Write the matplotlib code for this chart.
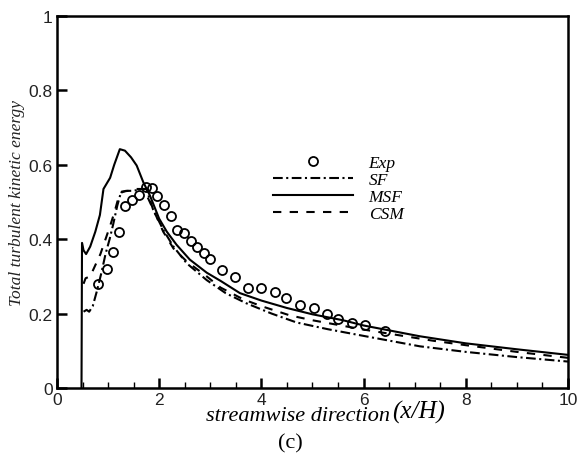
import matplotlib
matplotlib.use("Agg")
import matplotlib.pyplot as plt
from matplotlib.ticker import MultipleLocator

plt.rcParams['lines.scale_dashes'] = False

# experiment (circles)
exp_x = [0.81, 0.97, 1.10, 1.21, 1.34, 1.47, 1.60, 1.74, 1.85, 1.96, 2.10, 2.23,
         2.34, 2.49, 2.62, 2.74, 2.87, 3.00, 3.22, 3.48, 3.74, 4.00, 4.26, 4.48,
         4.76, 5.02, 5.28, 5.50, 5.77, 6.03, 6.42]
exp_y = [0.28, 0.32, 0.365, 0.42, 0.49, 0.505, 0.52, 0.54, 0.537, 0.515, 0.492, 0.463,
         0.426, 0.416, 0.396, 0.378, 0.362, 0.347, 0.317, 0.297, 0.27, 0.268, 0.257, 0.243,
         0.223, 0.214, 0.20, 0.185, 0.176, 0.168, 0.154]

# SF model
sf_x = [0.52, 0.58, 0.63, 0.70, 0.78, 0.87, 0.95, 1.03, 1.10, 1.18, 1.25, 1.35, 1.50,
        1.65, 1.75, 1.88, 2.08, 2.28, 2.54, 2.93, 3.30, 3.70, 4.20, 4.69, 5.30, 6.00,
        7.10, 8.00, 9.00, 10.0]
sf_y = [0.205, 0.21, 0.205, 0.22, 0.26, 0.31, 0.36, 0.40, 0.44, 0.49, 0.525, 0.53, 0.53,
        0.535, 0.535, 0.48, 0.425, 0.38, 0.335, 0.29, 0.255, 0.228, 0.20, 0.176, 0.158, 0.14,
        0.112, 0.097, 0.083, 0.071]

# MSF model
msf_x = [0.48, 0.49, 0.52, 0.57, 0.65, 0.75, 0.84, 0.91, 1.04, 1.12, 1.23, 1.33, 1.45,
         1.56, 1.69, 1.82, 2.00, 2.15, 2.34, 2.60, 2.93, 3.20, 3.58, 4.00, 4.50, 5.00,
         5.60, 6.00, 7.10, 8.00, 9.00, 10.0]
msf_y = [0.0, 0.39, 0.37, 0.36, 0.38, 0.42, 0.465, 0.535, 0.565, 0.60, 0.642, 0.638, 0.62,
         0.598, 0.553, 0.517, 0.455, 0.42, 0.385, 0.345, 0.31, 0.288, 0.255, 0.235, 0.215, 0.198,
         0.182, 0.168, 0.139, 0.12, 0.104, 0.089]

# CSM model
csm_x = [0.52, 0.56, 0.65, 0.75, 0.85, 0.95, 1.05, 1.13, 1.20, 1.27, 1.40, 1.55, 1.70,
         1.85, 2.08, 2.28, 2.54, 2.93, 3.20, 3.65, 4.00, 4.56, 5.00, 6.00, 7.36, 8.00,
         9.00, 10.0]
csm_y = [0.28, 0.295, 0.30, 0.33, 0.36, 0.40, 0.44, 0.475, 0.51, 0.528, 0.53, 0.535, 0.535,
         0.49, 0.42, 0.375, 0.34, 0.30, 0.27, 0.238, 0.22, 0.195, 0.182, 0.157, 0.127, 0.115,
         0.097, 0.081]

fig = plt.figure(figsize=(5.79, 4.56), dpi=100)
ax = fig.add_axes([0.0984, 0.147, 0.8826, 0.8157])

ax.plot(exp_x, exp_y, ls='none', marker='o', ms=6.5, mfc='none', mec='black', mew=1.3, label='Exp')
ax.plot(sf_x, sf_y, color='black', lw=1.5, dashes=(7, 2.5, 1.5, 2.5), label='SF')
ax.plot(msf_x, msf_y, color='black', lw=1.5, label='MSF')
ax.plot(csm_x, csm_y, color='black', lw=1.5, dashes=(6, 6), label='CSM')

ax.set_xlim(0, 10)
ax.set_ylim(0, 1)
ax.set_xticks([0, 2, 4, 6, 8, 10])
ax.set_xticklabels(['0', '2', '4', '6', '8', '10'])
ax.xaxis.set_minor_locator(MultipleLocator(0.5))
ax.set_yticks([0, 0.2, 0.4, 0.6, 0.8, 1.0])
ax.set_yticklabels(['0', '0.2', '0.4', '0.6', '0.8', '1'])
ax.tick_params(which='major', direction='in', length=7, width=1.8, labelsize=12.5, pad=3,
               labelcolor='#222222')
ax.tick_params(which='minor', direction='in', length=4, width=1.0)
for lab in ax.get_xticklabels() + ax.get_yticklabels():
    lab.set_family('Liberation Sans')
for s in ax.spines.values():
    s.set_linewidth(1.8)

ax.set_ylabel('Total turbulent kinetic energy', family='Liberation Serif', style='italic',
              fontsize=12.5, color='#222222', labelpad=3)

fig.text(390 / 579, 1 - 421 / 456, 'streamwise direction', family='Liberation Serif',
         style='italic', fontsize=16, ha='right', va='baseline')
fig.text(392 / 579, 1 - 419 / 456, '(x/H)', family='Liberation Serif',
         style='italic', fontsize=18, ha='left', va='baseline')
fig.text(290 / 579, 1 - 444 / 456, '(c)', family='Liberation Serif', fontsize=16,
         ha='center', va='center')

leg = ax.legend(loc='upper left', bbox_to_anchor=(0.423, 0.627), frameon=False,
                handlelength=4.6, handletextpad=0.9, labelspacing=0.05, borderpad=0,
                borderaxespad=0, prop={'family': 'Liberation Serif', 'style': 'italic', 'size': 12.5})

fig.savefig('out.png', dpi=100)
